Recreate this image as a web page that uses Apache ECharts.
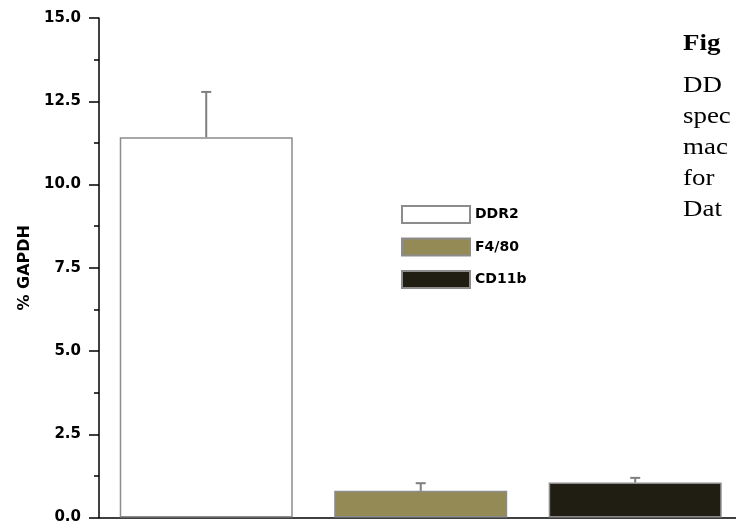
<!DOCTYPE html>
<html>
<head>
<meta charset="utf-8">
<style>
  html, body { margin: 0; padding: 0; background: #ffffff; }
  #chart { width: 736px; height: 529px; }
</style>
<script src="https://cdn.jsdelivr.net/npm/echarts@6/dist/echarts.min.js"></script>
</head>
<body>
<div id="chart"></div>
<script>
// Expression of each marker, as % of GAPDH
var categories = ['DDR2', 'F4/80', 'CD11b'];
var means = [11.42, 0.80, 1.05];
var upperErr = [12.78, 1.03, 1.19];
var barColors = ['#ffffff', '#948a56', '#201e12'];
var yTicks = { min: 0, max: 15, interval: 2.5 };
var captionLines = ['Fig', 'DD', 'spec', 'mac', 'for', 'Dat'];

var chart = echarts.init(document.getElementById('chart'));

// one bar series per marker (placed at its category index) so each gets a legend entry
var series = categories.map(function (name, i) {
  return {
    name: name,
    type: 'bar',
    data: [[i, means[i]]],
    barWidth: 173,
    barGap: '-100%',
    itemStyle: { color: barColors[i], borderColor: '#8c8c8c', borderWidth: 1.5 },
    emphasis: { disabled: true },
    silent: true
  };
});

// upward-only error whiskers with a small cap
series.push({
  type: 'custom',
  silent: true,
  z: 5,
  data: categories.map(function (_, i) { return [i, means[i], upperErr[i]]; }),
  renderItem: function (params, api) {
    var base = api.coord([api.value(0), api.value(1)]);
    var top = api.coord([api.value(0), api.value(2)]);
    var half = 5;
    return {
      type: 'group',
      children: [
        { type: 'line', shape: { x1: base[0], y1: base[1], x2: top[0], y2: top[1] },
          style: { stroke: '#7f7f7f', lineWidth: 2 } },
        { type: 'line', shape: { x1: top[0] - half, y1: top[1], x2: top[0] + half, y2: top[1] },
          style: { stroke: '#7f7f7f', lineWidth: 2 } }
      ]
    };
  }
});

// caption column on the right, running off the edge
var captionTops = [33, 74, 105, 136, 167, 198];
var graphics = captionLines.map(function (t, i) {
  return {
    type: 'text',
    x: 683,
    y: captionTops[i],
    scaleX: 1.17,
    style: {
      text: t,
      fontFamily: 'Liberation Serif',
      fontSize: 23,
      fontWeight: i === 0 ? 'bold' : 'normal',
      fill: '#000000'
    }
  };
});

chart.setOption({
  animation: false,
  backgroundColor: '#ffffff',
  grid: { left: 99, top: 18, right: 0, bottom: 11.5 },
  legend: {
    data: categories,
    orient: 'vertical',
    left: 396,
    top: 200,
    itemWidth: 68,
    itemHeight: 17,
    itemGap: 13.5,
    icon: 'rect',
    selectedMode: false,
    textStyle: { fontFamily: 'DejaVu Sans', fontWeight: 'bold', fontSize: 14, color: '#000' }
  },
  xAxis: {
    type: 'value',
    min: -0.5,
    max: 2.47,
    axisLine: { show: true, onZero: false, lineStyle: { color: '#000', width: 1.5 } },
    axisTick: { show: false },
    axisLabel: { show: false },
    splitLine: { show: false }
  },
  yAxis: {
    type: 'value',
    min: yTicks.min,
    max: yTicks.max,
    interval: yTicks.interval,
    name: '% GAPDH',
    nameLocation: 'middle',
    nameGap: 56,
    nameTextStyle: { fontFamily: 'DejaVu Sans', fontWeight: 'bold', fontSize: 16, color: '#000' },
    axisLine: { show: true, onZero: false, lineStyle: { color: '#000', width: 1.5 } },
    axisTick: { show: true, length: 10, lineStyle: { color: '#000', width: 1.5 } },
    minorTick: { show: true, splitNumber: 2, length: 5, lineStyle: { color: '#000', width: 1.5 } },
    axisLabel: {
      margin: 18,
      fontFamily: 'DejaVu Sans',
      fontWeight: 'bold',
      fontSize: 15,
      color: '#000',
      formatter: function (v) { return v.toFixed(1); }
    },
    splitLine: { show: false }
  },
  graphic: graphics,
  series: series
});
</script>
</body>
</html>
